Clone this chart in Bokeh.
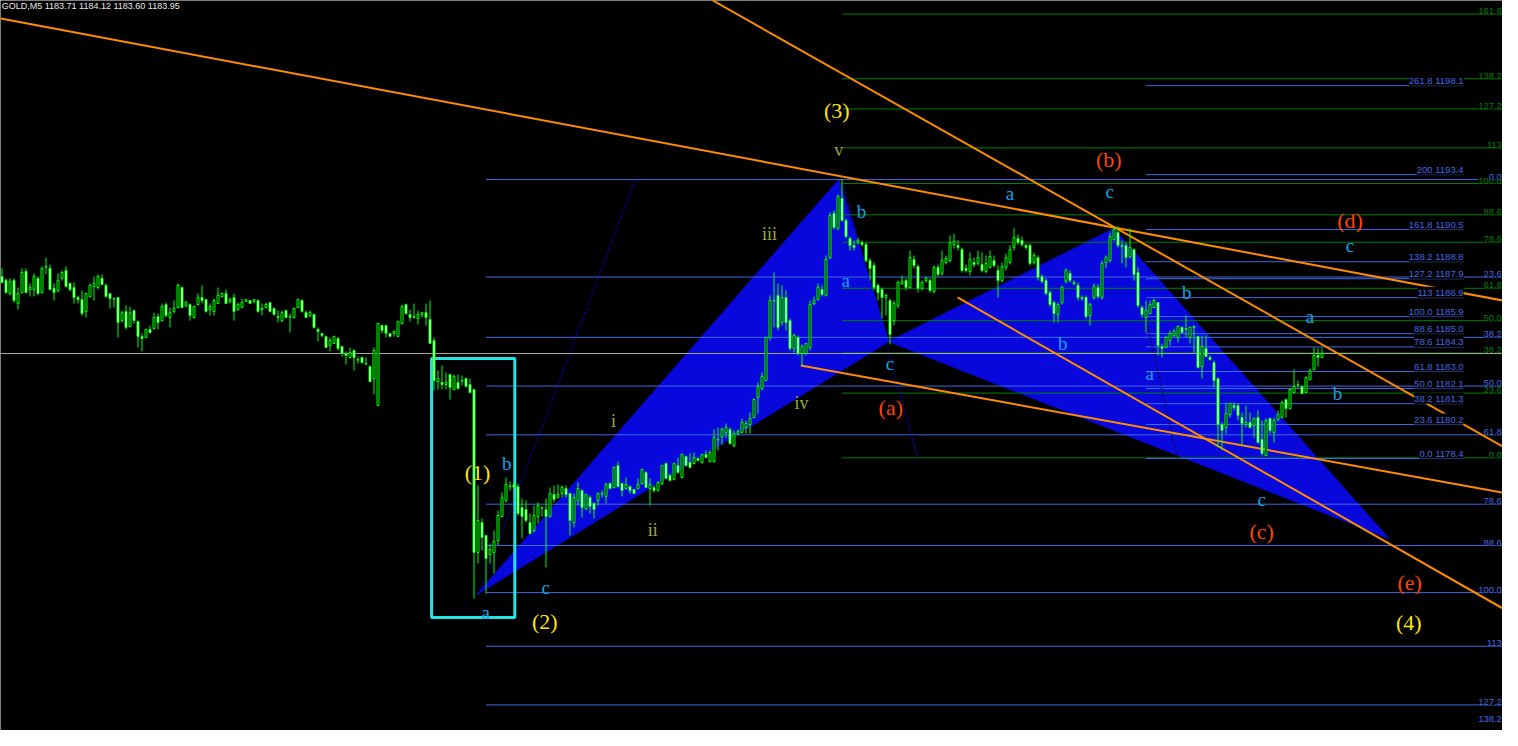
from bokeh.plotting import figure
from bokeh.models import ColumnDataSource, Range1d
from bokeh.core.properties import value
from bokeh.embed import file_html
from bokeh.resources import INLINE

# ---------------- candle data (GOLD, M5) ----------------
O = [1188.02, 1187.81, 1187.12, 1187.81, 1186.59, 1187.17, 1188.29, 1187.33, 1187.33, 1187.92,
     1187.17, 1188.55, 1188.45, 1187.39, 1187.28, 1187.92, 1188.34, 1187.65, 1187.44, 1186.91,
     1186.80, 1186.17, 1186.96, 1187.49, 1187.44, 1187.92, 1187.55, 1187.12, 1186.85, 1186.91,
     1185.69, 1186.17, 1185.38, 1186.22, 1185.64, 1184.85, 1184.80, 1185.22, 1185.27, 1185.90,
     1185.69, 1186.54, 1185.85, 1186.17, 1186.38, 1187.44, 1186.49, 1186.54, 1185.85, 1186.54,
     1186.91, 1186.80, 1186.27, 1186.17, 1186.59, 1186.96, 1187.12, 1186.70, 1186.91, 1186.27,
     1186.38, 1186.70, 1186.75, 1186.70, 1186.75, 1186.27, 1186.38, 1186.64, 1186.33, 1185.90,
     1185.69, 1186.22, 1185.90, 1185.85, 1186.38, 1186.75, 1186.11, 1185.96, 1186.01, 1185.22,
     1185.01, 1184.85, 1184.37, 1184.48, 1184.75, 1184.32, 1183.95, 1183.74, 1184.11, 1183.63,
     1183.74, 1183.42, 1183.26, 1182.63, 1181.20, 1185.43, 1185.43, 1185.01, 1185.01, 1184.85,
     1185.54, 1186.54, 1186.01, 1185.85, 1185.80, 1186.01, 1186.11, 1185.75, 1184.64, 1182.47,
     1182.42, 1182.31, 1182.84, 1182.05, 1182.42, 1182.52, 1182.63, 1182.31, 1182.05, 1173.44,
     1175.02, 1174.34, 1173.33, 1173.44, 1174.07, 1175.34, 1176.19, 1176.92, 1177.03, 1176.92,
     1175.81, 1175.71, 1175.02, 1174.60, 1175.34, 1175.81, 1175.71, 1175.34, 1176.50, 1176.34,
     1176.55, 1176.82, 1176.55, 1175.02, 1176.19, 1176.71, 1175.76, 1176.34, 1176.03, 1176.19,
     1176.55, 1176.40, 1177.08, 1176.87, 1178.03, 1177.08, 1176.82, 1176.92, 1176.77, 1176.82,
     1177.08, 1177.66, 1176.82, 1176.87, 1176.71, 1177.08, 1178.14, 1177.51, 1177.30, 1178.03,
     1177.40, 1178.51, 1178.19, 1178.14, 1178.40, 1178.19, 1178.62, 1178.24, 1178.24, 1179.41,
     1179.56, 1179.78, 1179.94, 1179.09, 1179.72, 1179.78, 1180.04, 1180.20, 1180.57, 1181.63,
     1182.10, 1182.52, 1184.80, 1186.75, 1187.02, 1185.59, 1186.91, 1185.69, 1184.22, 1184.80,
     1183.95, 1183.95, 1184.27, 1186.59, 1186.80, 1187.33, 1187.02, 1189.02, 1191.35, 1190.56,
     1192.14, 1190.98, 1190.03, 1189.66, 1189.81, 1189.81, 1189.71, 1188.86, 1188.60, 1187.55,
     1187.33, 1186.91, 1186.75, 1185.69, 1186.49, 1187.65, 1187.81, 1187.44, 1188.92, 1188.55,
     1187.39, 1187.81, 1187.81, 1187.23, 1188.50, 1188.18, 1188.76, 1188.86, 1189.71, 1189.66,
     1189.44, 1188.45, 1188.29, 1188.76, 1188.71, 1188.65, 1188.29, 1188.50, 1188.86, 1188.34,
     1187.81, 1188.50, 1188.76, 1189.55, 1190.03, 1189.92, 1189.66, 1189.66, 1188.76, 1189.02,
     1188.02, 1187.81, 1187.17, 1186.64, 1186.01, 1186.64, 1187.76, 1188.18, 1187.70, 1187.55,
     1186.91, 1186.91, 1185.96, 1186.91, 1187.44, 1186.91, 1188.76, 1188.86, 1189.97, 1190.34,
     1189.66, 1189.66, 1189.07, 1189.44, 1188.23, 1186.38, 1185.85, 1186.06, 1186.38, 1186.64,
     1184.32, 1184.27, 1184.64, 1184.90, 1184.80, 1185.33, 1185.22, 1184.80, 1185.33, 1184.85,
     1183.26, 1184.22, 1183.74, 1183.47, 1182.63, 1180.20, 1180.04, 1180.73, 1181.20, 1181.20,
     1180.57, 1180.20, 1180.31, 1180.15, 1180.57, 1179.41, 1178.56, 1180.52, 1179.78, 1180.46,
     1180.57, 1181.52, 1181.04, 1181.89, 1182.31, 1182.21, 1181.89, 1182.58, 1183.11, 1183.85,
     1183.74]
H = [1188.45, 1187.92, 1187.92, 1187.92, 1187.44, 1188.45, 1188.45, 1187.65, 1188.18, 1188.02,
     1188.55, 1189.02, 1188.65, 1187.65, 1188.18, 1188.34, 1188.55, 1187.70, 1187.70, 1187.02,
     1187.28, 1187.17, 1187.65, 1188.02, 1188.13, 1188.13, 1187.65, 1187.12, 1186.91, 1186.91,
     1186.22, 1186.49, 1186.43, 1186.27, 1185.69, 1185.01, 1185.27, 1185.43, 1186.11, 1186.06,
     1186.59, 1186.64, 1186.38, 1186.75, 1187.65, 1187.49, 1186.75, 1186.59, 1186.49, 1187.12,
     1187.55, 1186.80, 1186.59, 1186.85, 1187.44, 1187.17, 1187.33, 1186.91, 1187.12, 1186.64,
     1186.85, 1186.80, 1186.75, 1186.80, 1186.80, 1186.59, 1186.64, 1186.64, 1186.38, 1186.22,
     1186.22, 1186.27, 1186.06, 1186.38, 1186.85, 1186.80, 1186.22, 1186.22, 1186.06, 1185.33,
     1185.01, 1184.90, 1184.80, 1184.90, 1184.80, 1184.37, 1184.06, 1184.27, 1184.16, 1183.79,
     1183.79, 1183.74, 1183.32, 1184.27, 1185.54, 1185.48, 1185.48, 1185.01, 1185.17, 1185.69,
     1186.54, 1186.59, 1186.27, 1186.59, 1186.22, 1186.11, 1186.59, 1186.75, 1184.80, 1183.05,
     1183.32, 1182.95, 1182.89, 1182.84, 1182.84, 1182.79, 1182.68, 1182.63, 1182.05, 1176.98,
     1175.23, 1174.34, 1173.91, 1174.60, 1175.66, 1176.61, 1177.40, 1177.19, 1177.14, 1177.08,
     1176.29, 1176.19, 1175.50, 1175.92, 1176.08, 1175.87, 1176.29, 1176.87, 1176.98, 1177.03,
     1176.98, 1176.98, 1176.61, 1176.55, 1177.14, 1176.77, 1176.55, 1176.45, 1176.08, 1176.61,
     1176.71, 1177.14, 1177.14, 1177.98, 1178.24, 1177.14, 1177.40, 1176.98, 1176.77, 1177.35,
     1177.88, 1177.72, 1177.35, 1176.98, 1177.19, 1178.03, 1178.19, 1177.61, 1178.14, 1178.46,
     1178.67, 1178.56, 1178.67, 1178.72, 1178.46, 1178.62, 1178.83, 1178.83, 1179.94, 1180.04,
     1180.04, 1180.25, 1180.04, 1179.88, 1179.94, 1180.52, 1180.41, 1180.83, 1181.57, 1182.42,
     1182.95, 1184.80, 1187.02, 1188.23, 1187.65, 1187.55, 1187.28, 1185.80, 1185.01, 1184.90,
     1184.43, 1184.48, 1186.75, 1186.96, 1187.65, 1187.55, 1189.13, 1191.40, 1191.51, 1192.35,
     1193.14, 1191.08, 1190.13, 1189.92, 1190.08, 1189.92, 1189.81, 1188.97, 1188.76, 1187.65,
     1187.44, 1187.12, 1186.85, 1186.75, 1187.81, 1188.07, 1187.92, 1189.39, 1189.13, 1188.65,
     1187.81, 1188.02, 1187.92, 1188.60, 1188.65, 1189.39, 1189.13, 1190.19, 1190.29, 1189.92,
     1189.55, 1188.65, 1189.29, 1189.02, 1189.39, 1189.29, 1189.13, 1189.39, 1189.13, 1188.60,
     1188.76, 1189.23, 1189.66, 1190.56, 1190.24, 1190.13, 1189.76, 1189.76, 1189.29, 1189.13,
     1188.13, 1187.92, 1187.28, 1186.75, 1186.64, 1187.55, 1188.45, 1188.34, 1187.81, 1187.70,
     1187.02, 1187.02, 1186.64, 1187.65, 1187.60, 1188.86, 1189.13, 1190.34, 1190.66, 1190.61,
     1189.92, 1189.81, 1190.56, 1189.50, 1188.50, 1186.49, 1186.75, 1186.75, 1186.85, 1186.64,
     1184.48, 1184.90, 1185.17, 1185.27, 1185.43, 1185.38, 1185.96, 1185.38, 1185.43, 1184.90,
     1184.90, 1184.90, 1183.85, 1183.58, 1182.68, 1180.31, 1181.36, 1181.36, 1181.36, 1181.31,
     1180.83, 1181.20, 1180.83, 1180.57, 1180.94, 1180.41, 1180.52, 1180.57, 1180.57, 1180.94,
     1181.47, 1181.57, 1182.10, 1183.11, 1182.52, 1182.26, 1182.74, 1183.16, 1184.27, 1184.22,
     1184.22]
L = [1187.65, 1187.12, 1187.02, 1186.64, 1186.27, 1187.12, 1187.12, 1186.96, 1186.96, 1187.02,
     1187.12, 1188.13, 1187.28, 1186.75, 1187.17, 1187.81, 1187.44, 1187.23, 1186.59, 1186.59,
     1185.96, 1185.85, 1186.91, 1186.75, 1187.33, 1187.55, 1186.91, 1186.33, 1186.38, 1184.80,
     1185.59, 1185.22, 1185.33, 1185.54, 1184.27, 1184.06, 1184.80, 1185.01, 1185.22, 1185.22,
     1185.64, 1185.85, 1185.33, 1186.06, 1186.33, 1186.33, 1186.38, 1185.69, 1185.80, 1186.49,
     1186.59, 1186.11, 1185.96, 1185.96, 1186.59, 1186.91, 1186.59, 1186.59, 1185.69, 1186.22,
     1186.38, 1186.70, 1186.59, 1186.59, 1186.11, 1185.96, 1186.33, 1186.11, 1185.96, 1185.59,
     1185.59, 1185.80, 1185.06, 1185.80, 1186.38, 1186.11, 1185.85, 1185.85, 1185.27, 1184.59,
     1184.80, 1184.27, 1184.06, 1184.48, 1184.11, 1183.79, 1183.37, 1183.69, 1183.05, 1183.42,
     1183.42, 1183.32, 1182.42, 1181.79, 1181.20, 1185.01, 1184.80, 1184.85, 1184.85, 1184.85,
     1185.48, 1186.01, 1185.64, 1185.80, 1185.48, 1185.85, 1185.43, 1184.48, 1182.00, 1182.05,
     1182.05, 1182.05, 1181.52, 1182.00, 1182.05, 1182.26, 1182.16, 1181.84, 1171.01, 1172.86,
     1173.54, 1171.27, 1172.86, 1172.33, 1173.81, 1175.29, 1176.08, 1176.71, 1176.82, 1175.39,
     1174.18, 1175.02, 1174.39, 1174.50, 1174.97, 1175.34, 1172.65, 1175.29, 1176.08, 1176.29,
     1176.34, 1176.34, 1174.34, 1174.76, 1175.92, 1175.29, 1175.66, 1175.50, 1175.23, 1175.92,
     1176.34, 1176.03, 1176.77, 1176.82, 1176.87, 1176.40, 1176.77, 1176.55, 1176.55, 1176.77,
     1177.03, 1176.87, 1175.92, 1176.61, 1176.66, 1176.98, 1177.30, 1177.19, 1177.24, 1177.61,
     1177.35, 1177.98, 1177.88, 1178.09, 1178.24, 1178.14, 1178.40, 1178.19, 1178.19, 1178.83,
     1179.14, 1179.51, 1179.14, 1178.99, 1179.62, 1179.72, 1179.72, 1179.72, 1180.57, 1180.78,
     1182.00, 1182.52, 1184.64, 1185.33, 1185.17, 1185.43, 1185.17, 1184.11, 1184.00, 1183.85,
     1183.32, 1183.85, 1184.11, 1186.49, 1186.75, 1186.96, 1186.96, 1188.92, 1190.50, 1190.45,
     1190.92, 1190.03, 1189.39, 1189.39, 1189.71, 1189.60, 1188.76, 1187.81, 1187.28, 1186.75,
     1185.80, 1185.96, 1184.43, 1185.43, 1186.33, 1187.55, 1187.28, 1187.39, 1188.45, 1187.17,
     1187.28, 1187.70, 1187.17, 1187.12, 1188.02, 1188.07, 1188.65, 1188.76, 1189.50, 1189.39,
     1188.23, 1188.23, 1188.07, 1188.50, 1188.60, 1188.23, 1188.18, 1188.45, 1188.50, 1186.91,
     1187.70, 1188.34, 1188.65, 1189.39, 1189.71, 1189.60, 1189.44, 1188.60, 1188.65, 1187.81,
     1187.65, 1187.02, 1186.43, 1185.59, 1185.59, 1186.54, 1187.65, 1187.70, 1187.55, 1186.75,
     1186.75, 1185.80, 1185.43, 1186.80, 1186.85, 1186.80, 1188.45, 1188.76, 1189.92, 1189.55,
     1188.71, 1188.50, 1188.97, 1187.81, 1186.38, 1185.85, 1185.06, 1186.06, 1186.38, 1183.85,
     1183.74, 1184.22, 1184.37, 1184.80, 1184.53, 1185.01, 1184.80, 1184.48, 1184.00, 1183.16,
     1182.63, 1183.74, 1183.58, 1182.16, 1178.99, 1178.83, 1179.72, 1180.57, 1180.94, 1180.41,
     1179.09, 1180.04, 1179.99, 1179.51, 1179.19, 1178.56, 1178.56, 1179.72, 1179.25, 1180.36,
     1180.52, 1180.57, 1180.99, 1181.84, 1182.10, 1181.79, 1181.84, 1182.52, 1183.05, 1183.26,
     1183.69]
C = [1187.70, 1187.17, 1187.76, 1186.75, 1187.12, 1188.23, 1187.17, 1187.44, 1188.02, 1187.12,
     1188.45, 1188.52, 1187.33, 1187.17, 1187.81, 1188.23, 1187.49, 1187.33, 1186.91, 1186.80,
     1186.06, 1187.12, 1187.55, 1187.65, 1188.02, 1187.60, 1186.96, 1186.85, 1186.83, 1185.59,
     1186.11, 1185.33, 1186.11, 1185.69, 1184.85, 1184.75, 1185.22, 1185.06, 1185.85, 1185.59,
     1186.43, 1185.96, 1186.11, 1186.33, 1187.55, 1186.38, 1186.64, 1185.96, 1186.43, 1186.91,
     1186.75, 1186.17, 1186.43, 1186.75, 1187.02, 1187.12, 1186.59, 1186.80, 1186.17, 1186.54,
     1186.64, 1186.80, 1186.59, 1186.80, 1186.17, 1186.33, 1186.54, 1186.17, 1186.01, 1185.85,
     1186.11, 1185.85, 1185.88, 1186.33, 1186.80, 1186.17, 1185.85, 1186.11, 1185.33, 1185.11,
     1184.90, 1184.27, 1184.64, 1184.85, 1184.22, 1183.95, 1183.85, 1184.00, 1183.74, 1183.61,
     1183.47, 1183.40, 1182.47, 1184.11, 1185.54, 1185.17, 1185.01, 1184.85, 1185.11, 1185.64,
     1186.43, 1186.06, 1185.85, 1185.90, 1186.01, 1186.11, 1185.85, 1184.48, 1182.52, 1182.63,
     1182.31, 1182.42, 1182.16, 1182.74, 1182.10, 1182.50, 1182.21, 1181.89, 1173.44, 1175.13,
     1174.23, 1173.12, 1173.60, 1174.02, 1175.39, 1176.34, 1177.03, 1176.95, 1176.87, 1175.50,
     1175.34, 1175.13, 1174.44, 1175.39, 1175.92, 1175.79, 1175.34, 1176.55, 1176.24, 1176.50,
     1176.87, 1176.50, 1175.13, 1176.34, 1176.82, 1175.81, 1176.50, 1175.87, 1175.71, 1176.55,
     1176.53, 1177.03, 1176.82, 1177.93, 1176.92, 1176.71, 1177.03, 1176.71, 1176.55, 1177.03,
     1177.82, 1176.87, 1177.03, 1176.71, 1177.14, 1178.03, 1177.35, 1177.24, 1178.14, 1177.66,
     1178.62, 1178.03, 1177.93, 1178.46, 1178.30, 1178.62, 1178.46, 1178.72, 1179.51, 1179.38,
     1179.94, 1180.04, 1179.19, 1179.72, 1179.83, 1180.31, 1180.25, 1180.52, 1181.52, 1182.21,
     1182.74, 1184.80, 1186.75, 1186.72, 1185.33, 1186.91, 1185.59, 1184.22, 1184.90, 1183.95,
     1184.32, 1184.48, 1186.54, 1186.75, 1187.44, 1187.07, 1188.92, 1191.24, 1190.61, 1192.25,
     1190.98, 1190.13, 1189.66, 1189.55, 1189.92, 1189.71, 1188.86, 1188.45, 1187.44, 1187.17,
     1186.91, 1187.02, 1184.95, 1186.59, 1187.70, 1187.76, 1187.44, 1189.02, 1188.60, 1187.39,
     1187.70, 1187.92, 1187.28, 1188.50, 1188.13, 1188.86, 1188.97, 1189.81, 1189.87, 1189.55,
     1188.34, 1188.34, 1188.92, 1188.65, 1189.02, 1188.34, 1188.71, 1189.07, 1188.60, 1187.81,
     1188.55, 1189.02, 1189.44, 1190.08, 1189.81, 1189.71, 1189.55, 1188.71, 1189.13, 1187.97,
     1187.76, 1187.12, 1186.54, 1186.06, 1186.54, 1187.44, 1188.34, 1187.81, 1187.65, 1186.91,
     1186.85, 1185.90, 1186.54, 1187.49, 1186.96, 1188.71, 1189.02, 1190.13, 1190.50, 1189.66,
     1189.60, 1189.02, 1189.55, 1188.13, 1186.49, 1186.01, 1186.22, 1186.54, 1186.75, 1184.37,
     1184.22, 1184.80, 1185.01, 1185.11, 1185.38, 1185.06, 1185.27, 1185.33, 1185.38, 1183.21,
     1184.32, 1183.79, 1183.63, 1182.52, 1180.20, 1179.88, 1180.78, 1181.31, 1181.10, 1180.68,
     1180.25, 1180.31, 1180.04, 1180.52, 1179.25, 1178.67, 1180.41, 1179.88, 1180.41, 1180.73,
     1181.36, 1181.04, 1182.05, 1182.21, 1182.29, 1181.84, 1182.68, 1183.05, 1183.85, 1183.74,
     1183.95]

HEADER = "GOLD,M5  1183.71 1184.12 1183.60 1183.95"

# ---------------- Fibonacci objects ----------------
F1_RATIO = ["261.8", "200", "161.8", "138.2", "127.2", "113", "100.0", "88.6",
            "78.6", "61.8", "50.0", "38.2", "23.6", "0.0"]
F1_PRICE = [1198.1, 1193.4, 1190.5, 1188.8, 1187.9, 1186.9, 1185.9, 1185.0,
            1184.3, 1183.0, 1182.1, 1181.3, 1180.2, 1178.4]
F1_START, F1_END = 286.0, 365.4

F2_RATIO = ["0.0", "23.6", "38.2", "50.0", "61.8", "78.6", "88.6", "100.0", "113", "127.2", "138.2"]
F2_HIGH, F2_LOW = 1193.14, 1171.32
F2_START = 121.0

F3_RATIO = ["0.0", "23.6", "38.2", "50.0", "61.8", "78.6", "88.6", "100.0", "113", "127.2",
            "138.2", "161.8"]
F3_P0, F3_P100 = 1178.44, 1192.93
F3_START = 210.0

# harmonic pattern points X, A, B, C, D (bar, price)
PAT_BAR = [118.7, 209.2, 221.7, 277.9, 346.7]
PAT_PRICE = [1171.22, 1193.14, 1184.58, 1190.55, 1174.18]

# trend lines (orange)
TL_X0 = [-0.3, 177.7, 199.7, 238.9]
TL_Y0 = [1201.65, 1202.60, 1183.32, 1186.91]
TL_X1 = [379.2, 379.2, 379.2, 379.2]
TL_Y1 = [1186.59, 1178.56, 1176.45, 1170.00]

# dotted lines
DOT_X0 = [119.2, 210.2, 285.9]
DOT_Y0 = [1171.22, 1192.93, 1185.85]
DOT_X1 = [158.2, 228.9, 293.9]
DOT_Y1 = [1193.09, 1178.40, 1178.40]
DOT_COL = ["#0000ff", "#0000ff", "#000000"]

# highlight box
BOX_L, BOX_R, BOX_T, BOX_B = 107.4, 128.2, 1183.69, 1170.00

# wave labels
PAR_TXT = ["(1)", "(2)", "(3)", "(4)"]
PAR_X = [118.9, 135.7, 208.7, 351.7]
PAR_Y = [1177.66, 1169.79, 1196.79, 1169.74]

RED_TXT = ["(a)", "(b)", "(c)", "(d)", "(e)"]
RED_X = [222.2, 276.7, 314.9, 337.0, 351.9]
RED_Y = [1181.10, 1194.20, 1174.55, 1190.98, 1171.85]

ABC_TXT = ["a", "b", "c", "b", "a", "c", "a", "c", "b", "a", "b", "c", "a", "b", "c"]
ABC_X = [120.9, 126.2, 135.9, 214.9, 210.9, 222.0, 252.0, 276.9, 265.2, 286.9, 296.2,
         314.9, 327.0, 333.9, 337.0]
ABC_Y = [1170.27, 1178.14, 1171.59, 1191.45, 1187.81, 1183.42, 1192.40, 1192.51, 1184.48,
         1182.89, 1187.17, 1176.24, 1185.91, 1181.84, 1189.66]

ROM_TXT = ["i", "ii", "iii", "iv", "v"]
ROM_X = [152.9, 162.7, 191.9, 199.9, 209.2]
ROM_Y = [1180.41, 1174.65, 1190.29, 1181.31, 1194.68]

# ---------------- figure ----------------
X_LO, X_HI = -0.375, 375.125
Y_LO, Y_HI = 1164.034, 1202.600

p = figure(width=1502, height=730, x_range=Range1d(X_LO, X_HI), y_range=Range1d(Y_LO, Y_HI),
           output_backend="svg", toolbar_location=None, x_axis_type=None, y_axis_type=None,
           title=None, min_border=0, background_fill_color="#000000",
           border_fill_color="#000000", outline_line_color=None)
p.grid.visible = False

BLUE = "#4169e1"
GREEN = "#008000"
ORANGE = "#ff8c00"

# triangles
p.patches(xs=[PAT_BAR[0:3], PAT_BAR[2:5]], ys=[PAT_PRICE[0:3], PAT_PRICE[2:5]],
          fill_color="#0808dc", line_color="#0808dc", line_width=1)

# fib F3 (green)
f3_prices = [F3_P0 + float(r) / 100.0 * (F3_P100 - F3_P0) for r in F3_RATIO]
p.segment(x0=[F3_START] * len(f3_prices), x1=[X_HI + 5] * len(f3_prices),
          y0=f3_prices, y1=f3_prices, line_color=GREEN, line_width=1)
# fib F2 (blue)
f2_prices = [F2_HIGH - float(r) / 100.0 * (F2_HIGH - F2_LOW) for r in F2_RATIO]
p.segment(x0=[F2_START] * len(f2_prices), x1=[X_HI + 5] * len(f2_prices),
          y0=f2_prices, y1=f2_prices, line_color=BLUE, line_width=1)
# fib F1 (blue)
p.segment(x0=[F1_START] * len(F1_PRICE), x1=[F1_END] * len(F1_PRICE),
          y0=F1_PRICE, y1=F1_PRICE, line_color=BLUE, line_width=1)

# dotted
p.segment(x0=DOT_X0, y0=DOT_Y0, x1=DOT_X1, y1=DOT_Y1, line_color=DOT_COL,
          line_width=1, line_dash="2 2")

# bid line
p.segment(x0=[X_LO - 5], x1=[X_HI + 5], y0=[C[-1]], y1=[C[-1]], line_color="#a8a8a8", line_width=1)

# highlight box
p.quad(left=[BOX_L], right=[BOX_R], top=[BOX_T], bottom=[BOX_B], fill_color=None,
       line_color="#22e4e4", line_width=3)

# trend lines
p.segment(x0=TL_X0, y0=TL_Y0, x1=TL_X1, y1=TL_Y1, line_color=ORANGE, line_width=2)

# candles
bars = list(range(len(C)))
src = ColumnDataSource(dict(
    x=bars, o=O, h=H, l=L, c=C,
    top=[max(a, b) for a, b in zip(O, C)],
    bottom=[min(a, b) for a, b in zip(O, C)],
    fill=["#000000" if c >= o else "#ffffff" for o, c in zip(O, C)],
))
p.segment(x0="x", y0="l", x1="x", y1="h", source=src, line_color="#00ff00", line_width=1)
p.vbar(x="x", width=0.5, top="top", bottom="bottom", source=src, fill_color="fill",
       line_color="#00ff00", line_width=1)

# fib labels (kept inside the visible frame)
SANS = value("Liberation Sans")
LBL_MIN = Y_LO + 0.45
f3_lbl_y = [max(v, LBL_MIN) for v in f3_prices]
f2_lbl_y = [max(v, LBL_MIN) for v in f2_prices]
p.text(x=[X_HI - 0.15] * len(F3_RATIO), y=f3_lbl_y, text=F3_RATIO, text_color=GREEN,
       text_font=SANS, text_font_size="9.5px", text_align="right", text_baseline="bottom",
       background_fill_color="#000000")
p.text(x=[X_HI - 0.15] * len(F2_RATIO), y=f2_lbl_y, text=F2_RATIO, text_color=BLUE,
       text_font=SANS, text_font_size="9.5px", text_align="right", text_baseline="bottom",
       background_fill_color="#000000")
f1_text = [f"{r} {v:.1f}" for r, v in zip(F1_RATIO, F1_PRICE)]
p.text(x=[F1_END] * len(F1_PRICE), y=F1_PRICE, text=f1_text, text_color=BLUE,
       text_font=SANS, text_font_size="9.5px", text_align="right", text_baseline="bottom",
       background_fill_color="#000000")

# wave labels
SERIF = value("Liberation Serif")
p.text(x=PAR_X, y=PAR_Y, text=PAR_TXT, text_color="#ffe600", text_font=SERIF,
       text_font_size="22px", text_align="center", text_baseline="middle")
p.text(x=RED_X, y=RED_Y, text=RED_TXT, text_color="#ff4500", text_font=SERIF,
       text_font_size="22px", text_align="center", text_baseline="middle")
p.text(x=ABC_X, y=ABC_Y, text=ABC_TXT, text_color="#10a4ec", text_font=SERIF,
       text_font_size="19px", text_align="center", text_baseline="middle")
p.text(x=ROM_X, y=ROM_Y, text=ROM_TXT, text_color="#9aa83a", text_font=SERIF,
       text_font_size="18px", text_align="center", text_baseline="middle")

# header
p.text(x=[X_LO + 0.3], y=[Y_HI], text=[HEADER], text_color="#e8e8e8", text_font=SANS,
       text_font_size="9px", text_align="left", text_baseline="top")

open("out.html", "w").write(file_html(p, INLINE))
